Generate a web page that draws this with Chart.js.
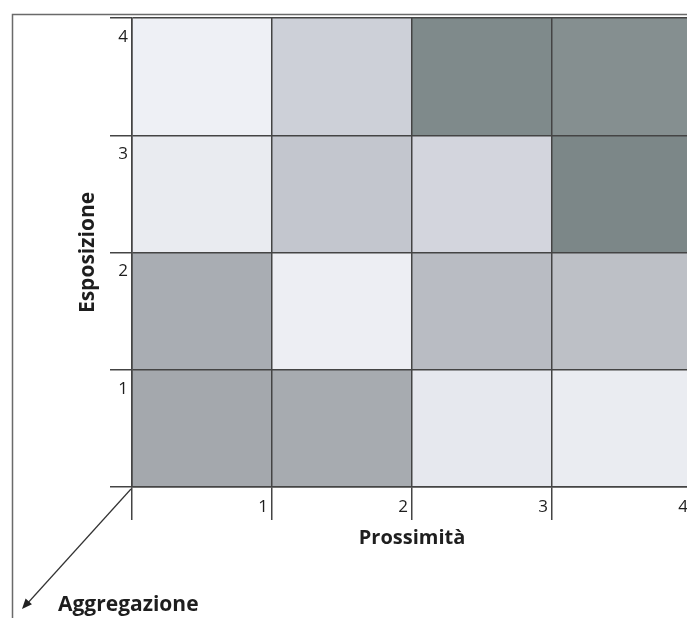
<!DOCTYPE html>
<html><head><meta charset="utf-8">
<script src="https://cdn.jsdelivr.net/npm/chart.js@4/dist/chart.umd.min.js"></script>
<style>html,body{margin:0;padding:0;background:#fff;overflow:hidden;width:687px;height:618px}</style>
</head><body>
<canvas id="c" width="700" height="618" style="display:block;width:700px;height:618px"></canvas>
<script>
// Categories
const prossimita = ['1', '2', '3', '4'];   // x axis (columns)
const esposizione = ['1', '2', '3', '4'];  // y axis (rows)
// Cell shades per row (Esposizione 1..4), one per Prossimità column
const shadeRow1 = ['#a4a8ad', '#a7abb0', '#e6e8ee', '#eaecf1'];
const shadeRow2 = ['#a9adb3', '#edeef3', '#b9bcc3', '#bdc0c6'];
const shadeRow3 = ['#e9ebf0', '#c3c6ce', '#d3d5dd', '#7c8788'];
const shadeRow4 = ['#eef0f5', '#cdd0d8', '#7f8a8b', '#858f90'];
const shades = [shadeRow1, shadeRow2, shadeRow3, shadeRow4];

const axisColor = '#444';
const textColor = '#1e1e1e';

const datasets = esposizione.map((e, i) => ({
  label: 'Esposizione ' + e,
  data: prossimita.map((p) => ({ x: Number(p) - 0.5, y: [Number(e) - 1, Number(e)] })),
  backgroundColor: shades[i],
  borderWidth: 0,
  barPercentage: 1,
  categoryPercentage: 1,
  grouped: false
}));

const extras = {
  id: 'extras',
  afterDraw(chart) {
    const { ctx } = chart;
    const xs = chart.scales.x, ys = chart.scales.y;
    ctx.save();
    // outer frame (left and top)
    ctx.strokeStyle = '#6a6a6a';
    ctx.lineWidth = 1.5;
    ctx.beginPath();
    ctx.moveTo(12.5, 618);
    ctx.lineTo(12.5, 14.5);
    ctx.lineTo(700, 14.5);
    ctx.stroke();
    // Aggregazione arrow from origin
    const ox = xs.getPixelForValue(0), oy = ys.getPixelForValue(0);
    const ex = 22, ey = 609;
    ctx.strokeStyle = '#333';
    ctx.lineWidth = 1.2;
    ctx.beginPath();
    ctx.moveTo(ox - 1, oy + 2);
    ctx.lineTo(ex + 4, ey - 4);
    ctx.stroke();
    const ang = Math.atan2(ey - oy, ex - ox);
    const L = 11, W = 0.4;
    ctx.fillStyle = '#222';
    ctx.beginPath();
    ctx.moveTo(ex, ey);
    ctx.lineTo(ex - L * Math.cos(ang - W), ey - L * Math.sin(ang - W));
    ctx.lineTo(ex - L * Math.cos(ang + W), ey - L * Math.sin(ang + W));
    ctx.closePath();
    ctx.fill();
    ctx.fillStyle = textColor;
    ctx.font = 'bold 21px "Open Sans"';
    ctx.textAlign = 'left';
    ctx.textBaseline = 'alphabetic';
    ctx.fillText('Aggregazione', 58, 611);
    ctx.restore();
  }
};

new Chart(document.getElementById('c'), {
  type: 'bar',
  data: { datasets },
  plugins: [extras],
  options: {
    responsive: false,
    animation: false,
    devicePixelRatio: 1,
    layout: { padding: { top: 18, right: 8, left: 0, bottom: 0 } },
    plugins: { legend: { display: false }, tooltip: { enabled: false } },
    scales: {
      x: {
        type: 'linear', min: 0, max: 4, offset: false, position: 'bottom',
        afterFit: (s) => { s.height = 131; },
        ticks: {
          z: 1, stepSize: 1, autoSkip: false, maxRotation: 0,
          callback: (v) => (v >= 1 ? prossimita[v - 1] : ''),
          align: 'end', labelOffset: -4, padding: -23,
          font: { family: 'Open Sans', size: 17 }, color: textColor
        },
        grid: { z: 1, offset: false, color: axisColor, lineWidth: 1.5, tickLength: 33, tickColor: axisColor, tickWidth: 1.5 },
        border: { z: 1, color: axisColor, width: 1.5 },
        title: {
          display: true, text: 'Prossimità', color: textColor,
          font: { family: 'Open Sans', size: 20, weight: 'bold' },
          padding: { top: 0, bottom: 68 }
        }
      },
      y: {
        type: 'linear', min: 0, max: 4,
        afterFit: (s) => { s.width = 132; },
        ticks: {
          z: 1, stepSize: 1, autoSkip: false,
          callback: (v) => (v >= 1 ? esposizione[v - 1] : ''),
          labelOffset: 19, padding: -18,
          font: { family: 'Open Sans', size: 17 }, color: textColor
        },
        grid: { z: 1, offset: false, color: axisColor, lineWidth: 1.5, tickLength: 22, tickColor: axisColor, tickWidth: 1.5 },
        border: { z: 1, color: axisColor, width: 1.5 },
        title: {
          display: true, text: 'Esposizione', color: textColor,
          font: { family: 'Open Sans', size: 21, weight: 'bold' },
          padding: { top: 75, bottom: 0 }
        }
      }
    }
  }
});
</script>
</body></html>
